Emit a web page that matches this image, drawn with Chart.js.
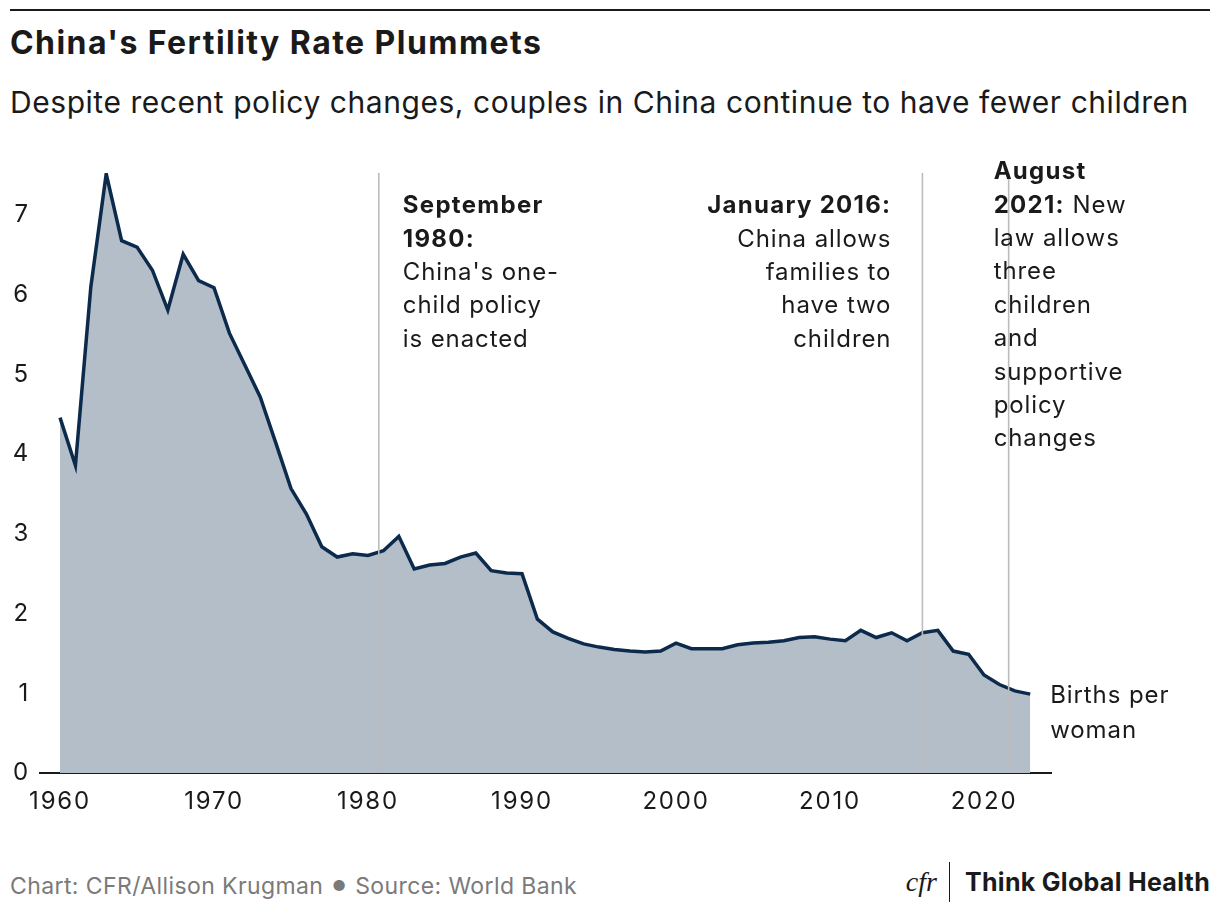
<!DOCTYPE html>
<html>
<head>
<meta charset="utf-8">
<script src="https://cdn.jsdelivr.net/npm/chart.js@4.4.1/dist/chart.umd.min.js"></script>
<style>
  body { margin: 0; width: 1220px; height: 920px; background: #fff; font-family: Inter, "Noto Sans", sans-serif; color: #1a1a1a; position: relative; overflow: hidden; }
  .rule { position: absolute; left: 10px; top: 9px; width: 1200px; height: 2px; background: #1a1a1a; }
  h1 { position: absolute; left: 10px; top: 27px; margin: 0; font-size: 32px; line-height: 1; font-weight: 700; letter-spacing: 1.45px; white-space: nowrap; }
  h2 { position: absolute; left: 10px; top: 87px; margin: 0; font-size: 30px; line-height: 1; font-weight: 400; letter-spacing: 0.55px; white-space: nowrap; }
  #wrap { position: absolute; left: 0; top: 130px; width: 1220px; height: 690px; }
  .foot { position: absolute; left: 10px; top: 872px; font-size: 23px; color: #7a7a7a; letter-spacing: 0.4px; white-space: nowrap; }
  .foot .dot { font-size: 15px; position: relative; top: -3px; padding: 0 2px; }
  .brand { position: absolute; right: 10px; top: 862px; height: 40px; display: flex; align-items: center; }
  .cfr { font-family: "Liberation Serif", serif; font-style: italic; font-size: 28px; padding-right: 12px; border-right: 1.5px solid #1a1a1a; line-height: 40px; margin-right: 15px; }
  .tgh { font-size: 25px; font-weight: 700; letter-spacing: 0.3px; }
</style>
</head>
<body>
<div class="rule"></div>
<h1>China's Fertility Rate Plummets</h1>
<h2>Despite recent policy changes, couples in China continue to have fewer children</h2>
<div id="wrap"><canvas id="chart"></canvas></div>
<div class="foot">Chart: CFR/Allison Krugman <span class="dot">●</span> Source: World Bank</div>
<div class="brand"><span class="cfr">cfr</span><span class="tgh">Think Global Health</span></div>

<script>
// births per woman, China, 1960-2023
const years = [];
for (let y = 1960; y <= 2023; y++) years.push(y);

const births = [
  4.46, 3.86, 6.10, 7.52, 6.68, 6.60, 6.31, 5.81, 6.51, 6.18,
  6.09, 5.52, 5.12, 4.72, 4.15, 3.57, 3.25, 2.84, 2.71, 2.75,
  2.73, 2.79, 2.97, 2.56, 2.61, 2.63, 2.71, 2.76, 2.54, 2.51,
  2.50, 1.93, 1.77, 1.69, 1.62, 1.58, 1.55, 1.53, 1.52, 1.53,
  1.63, 1.56, 1.56, 1.56, 1.61, 1.63, 1.64, 1.66, 1.70, 1.71,
  1.68, 1.66, 1.79, 1.70, 1.76, 1.66, 1.76, 1.79, 1.53, 1.49,
  1.23, 1.11, 1.03, 0.99
];

const xTicks = [1960, 1970, 1980, 1990, 2000, 2010, 2020];
const yTicks = [0, 1, 2, 3, 4, 5, 6, 7];

// policy events (fractional year = month)
const events = [
  { x: 1980.7, side: "right", lines: [[["September", true]], [["1980:", true]], [["China's one-", false]], [["child policy", false]], [["is enacted", false]]] },
  { x: 2016.0, side: "left", lines: [[["January 2016:", true]], [["China allows", false]], [["families to", false]], [["have two", false]], [["children", false]]] },
  { x: 2021.6, side: "over", lines: [[["August", true]], [["2021:", true], [" New", false]], [["law allows", false]], [["three", false]], [["children", false]], [["and", false]], [["supportive", false]], [["policy", false]], [["changes", false]]] }
];

const FONT = "Inter, 'Noto Sans', sans-serif";

function setFont(ctx, bold) {
  ctx.font = (bold ? "700 " : "400 ") + "24px " + FONT;
  ctx.letterSpacing = bold ? "1.3px" : "0.9px";
}

const eventPlugin = {
  id: "events",
  beforeDraw(chart) {
    // wider digits for tick labels
    chart.ctx.letterSpacing = "1.8px";
  },
  afterDatasetsDraw(chart) {
    const { ctx, chartArea, scales } = chart;
    ctx.save();
    ctx.strokeStyle = "#bcbcbc";
    ctx.lineWidth = 1.6;
    events.forEach(ev => {
      const px = scales.x.getPixelForValue(ev.x);
      ctx.beginPath();
      ctx.moveTo(px, chartArea.top);
      ctx.lineTo(px, chartArea.bottom);
      ctx.stroke();
    });

    ctx.fillStyle = "#1a1a1a";
    ctx.textBaseline = "middle";
    ctx.textAlign = "left";
    const lh = 33.4;
    events.forEach(ev => {
      const px = scales.x.getPixelForValue(ev.x);
      const y0 = ev.side === "over" ? chartArea.top - 1 : chartArea.top + 33;
      ev.lines.forEach((parts, i) => {
        const y = y0 + i * lh;
        let w = 0;
        parts.forEach(([t, b]) => { setFont(ctx, b); w += ctx.measureText(t).width; });
        let x;
        if (ev.side === "right") x = px + 24;
        else if (ev.side === "left") x = px - 31 - w;
        else x = px - 15;
        parts.forEach(([t, b]) => {
          setFont(ctx, b);
          ctx.fillText(t, x, y);
          x += ctx.measureText(t).width;
        });
      });
    });

    // series label
    const last = births.length - 1;
    const lx = scales.x.getPixelForValue(years[last]) + 20;
    const ly = scales.y.getPixelForValue(births[last]);
    setFont(ctx, false);
    ctx.fillText("Births per", lx, ly + 2);
    ctx.fillText("woman", lx, ly + 37);
    ctx.restore();
    ctx.letterSpacing = "0px";
  }
};

new Chart(document.getElementById("chart"), {
  type: "line",
  data: {
    datasets: [{
      data: years.map((y, i) => ({ x: y, y: births[i] })),
      borderColor: "#0c2a4b",
      borderWidth: 3.5,
      backgroundColor: "#b4bec9",
      fill: "origin",
      pointRadius: 0,
      tension: 0
    }]
  },
  options: {
    responsive: true,
    maintainAspectRatio: false,
    animation: false,
    layout: { padding: { left: 0, right: 169, top: 43, bottom: 0 } },
    plugins: { legend: { display: false }, tooltip: { enabled: false } },
    scales: {
      x: {
        type: "linear",
        min: 1958.7,
        max: 2024.35,
        afterBuildTicks: s => { s.ticks = xTicks.map(v => ({ value: v })); },
        afterFit: s => { s.height = 47; },
        grid: { display: false, drawTicks: false },
        border: { display: true, color: "#1a1a1a", width: 2 },
        ticks: { color: "#1a1a1a", font: { family: FONT, size: 24 }, padding: 14, maxRotation: 0, callback: v => String(v) }
      },
      y: {
        min: 0,
        max: 7.53,
        afterBuildTicks: s => { s.ticks = yTicks.map(v => ({ value: v })); },
        afterFit: s => { s.width = 40; },
        grid: { display: false, drawTicks: false },
        border: { display: false },
        ticks: { color: "#1a1a1a", font: { family: FONT, size: 24 }, padding: 10 }
      }
    }
  },
  plugins: [eventPlugin]
});
</script>
</body>
</html>
